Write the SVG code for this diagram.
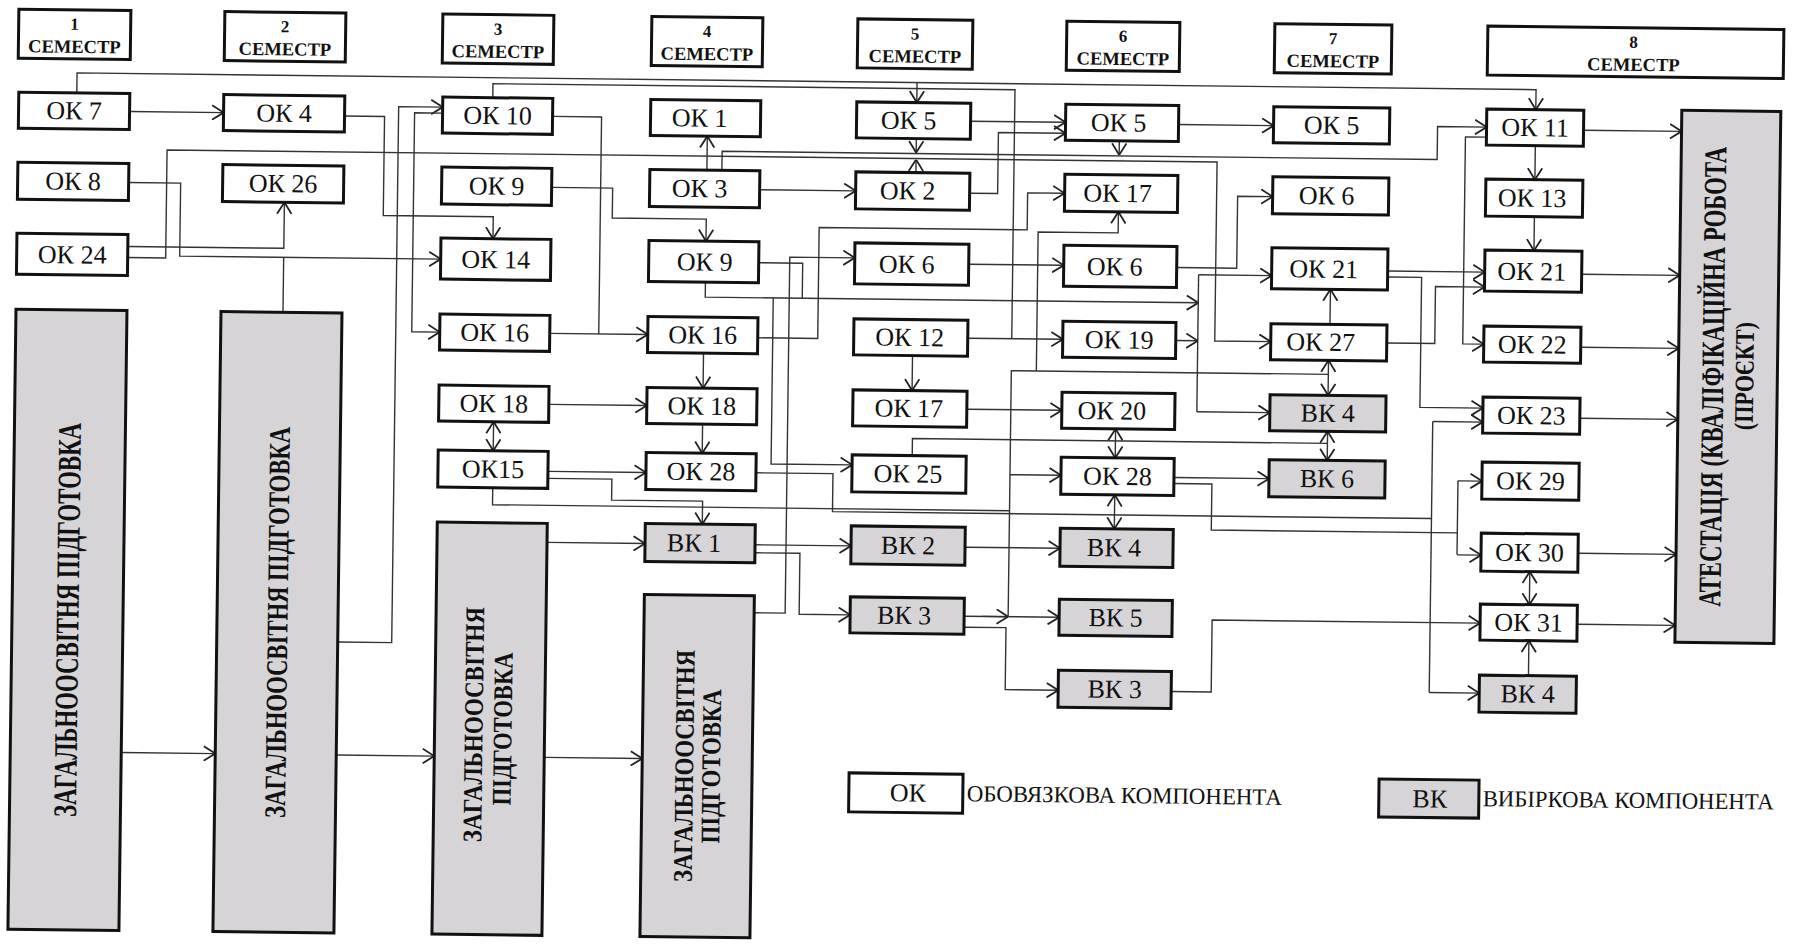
<svg xmlns="http://www.w3.org/2000/svg" width="1795" height="946" viewBox="0 0 1795 946">
<style>
.bx{fill:#fff;stroke:#111;stroke-width:3}
.gy{fill:#d7d4d8;stroke:#111;stroke-width:3}
.t{font-family:"Liberation Serif","Times New Roman",serif;font-size:26px;text-anchor:middle;fill:#111}
.hb{font-family:"Liberation Serif","Times New Roman",serif;font-weight:bold;text-anchor:middle;fill:#111}
.vt{font-family:"Liberation Serif","Times New Roman",serif;font-weight:bold;text-anchor:middle;fill:#111}
.lg{font-family:"Liberation Serif","Times New Roman",serif;font-size:23px;fill:#111}
#conn path{fill:none;stroke:#333;stroke-width:1.4}
.a{marker-end:url(#ar)}
.d{marker-start:url(#ar);marker-end:url(#ar)}
</style>
<defs>
<marker id="ar" viewBox="0 0 12 16" refX="12" refY="8" markerWidth="12" markerHeight="16" markerUnits="userSpaceOnUse" orient="auto-start-reverse">
<path d="M0.5,0.8 L12,8 L0.5,15.2" fill="none" stroke="#222" stroke-width="1.8"/>
</marker>
</defs>
<rect width="1795" height="946" fill="#fff"/>
<g transform="matrix(1 0.0115 -0.013 1 0 0)">
<g id="sem1"><rect class="bx" x="19" y="9" width="112" height="49"/><text class="hb" x="75" y="29" font-size="17">1</text><text class="hb" x="75" y="52" font-size="18.5">СЕМЕСТР</text></g>
<g id="sem2"><rect class="bx" x="225" y="9" width="121" height="49"/><text class="hb" x="285.5" y="29" font-size="17">2</text><text class="hb" x="285.5" y="52" font-size="18.5">СЕМЕСТР</text></g>
<g id="sem3"><rect class="bx" x="443" y="9" width="111" height="49"/><text class="hb" x="498.5" y="29" font-size="17">3</text><text class="hb" x="498.5" y="52" font-size="18.5">СЕМЕСТР</text></g>
<g id="sem4"><rect class="bx" x="652" y="9" width="111" height="49"/><text class="hb" x="707.5" y="29" font-size="17">4</text><text class="hb" x="707.5" y="52" font-size="18.5">СЕМЕСТР</text></g>
<g id="sem5"><rect class="bx" x="858" y="9" width="115" height="49"/><text class="hb" x="915.5" y="29" font-size="17">5</text><text class="hb" x="915.5" y="52" font-size="18.5">СЕМЕСТР</text></g>
<g id="sem6"><rect class="bx" x="1067" y="9" width="113" height="49"/><text class="hb" x="1123.5" y="29" font-size="17">6</text><text class="hb" x="1123.5" y="52" font-size="18.5">СЕМЕСТР</text></g>
<g id="sem7"><rect class="bx" x="1275" y="9" width="117" height="49"/><text class="hb" x="1333.5" y="29" font-size="17">7</text><text class="hb" x="1333.5" y="52" font-size="18.5">СЕМЕСТР</text></g>
<g id="sem8"><rect class="bx" x="1488" y="9" width="296" height="49"/><text class="hb" x="1634" y="29" font-size="17">8</text><text class="hb" x="1634" y="52" font-size="18.5">СЕМЕСТР</text></g>

<g id="conn">
<path class="a" d="M78,92 V72 H1537 V92"/>
<path class="a" d="M918,72 V92"/>
<path class="a" d="M131,110 H225"/>
<path class="a" d="M346,112 H386 V211 H496 V233"/>
<path class="a" d="M131,181 H183 V254 H444"/>
<path d="M287,309 V254"/>
<path class="a" d="M131,245 H287 V199"/>
<path class="a" d="M131,256 H169 V148 H1219 V327 H1275"/>
<path class="a" d="M709,162 V128"/>
<path class="a" d="M724,162 V143 H1439 V110 H1488"/>
<path class="a" d="M918,128 V142"/>
<path class="a" d="M918,162 V149"/>
<path class="a" d="M1121,128 V142"/>
<path class="a" d="M131,751 H225"/>
<path class="a" d="M346,751 H444"/>
<path class="a" d="M554,751 H652"/>
<path class="a" d="M346,638 H400 V102 H444"/>
<path class="a" d="M444,108 H416 V327 H444"/>
<path d="M554,110 H603 V327"/>
<path class="a" d="M554,327 H652"/>
<path class="a" d="M554,181 H615 V211 H709 V233"/>
<path class="a" d="M762,181 H858"/>
<path class="a" d="M709,274 V289 H1202"/>
<path class="a" d="M777,289 V455 H858"/>
<path d="M762,254 H806 V289"/>
<path class="a" d="M762,604 H793 V248 H858"/>
<path class="a" d="M762,329 H822 V218 H1030 V181 H1067"/>
<path class="a" d="M972,253 H1067"/>
<path class="a" d="M1180,254 H1240 V182 H1275"/>
<path d="M1202,261 V398"/>
<path class="a" d="M1202,261 H1275"/>
<path class="a" d="M1202,398 H1275"/>
<path class="a" d="M1180,327 H1202"/>
<path d="M494,92 V78 H1016 V327"/>
<path class="a" d="M972,327 H1067"/>
<path class="a" d="M917,345 V380"/>
<path class="a" d="M972,398 H1067"/>
<path class="d" d="M1121,416 V445"/>
<path class="d" d="M1121,482 V516"/>
<path class="a" d="M972,605 H1067"/>
<path class="a" d="M990,605 H1016"/>
<path d="M1016,605 V359 H1333"/>
<path class="a" d="M1016,463 H1067"/>
<path class="a" d="M1041,359 V220 H1121 V199"/>
<path class="a" d="M972,110 H1067"/>
<path class="a" d="M972,182 H1000 V121 H1067"/>
<path class="a" d="M1180,111 H1275"/>
<path class="a" d="M554,472 H618 V493 H709 V516"/>
<path class="a" d="M554,465 H652"/>
<path d="M499,482 V499 H1016"/>
<path d="M762,464 H839 V502 H1438"/>
<path d="M1438,405 V676"/>
<path class="a" d="M1438,405 H1488"/>
<path class="a" d="M1438,676 H1488"/>
<path class="a" d="M1180,464 H1275"/>
<path d="M1180,470 H1218 V516 H1464"/>
<path d="M1464,464 V538"/>
<path class="a" d="M1464,464 H1488"/>
<path class="a" d="M1464,538 H1488"/>
<path class="a" d="M1180,678 H1220 V606 H1488"/>
<path class="a" d="M972,616 H1014 V678 H1067"/>
<path class="a" d="M762,536 H858"/>
<path class="a" d="M762,544 H807 V605 H858"/>
<path class="a" d="M554,536 H652"/>
<path class="a" d="M972,536 H1067"/>
<path class="a" d="M1537,658 V623"/>
<path class="d" d="M1537,554 V587"/>
<path class="d" d="M1333,345 V380"/>
<path class="d" d="M1333,416 V445"/>
<path d="M918,445 V428 H1333"/>
<path class="a" d="M1334,309 V274"/>
<path class="a" d="M1391,255 H1488"/>
<path class="a" d="M1391,261 H1425 V391 H1488"/>
<path class="a" d="M1391,327 H1439 V270 H1488"/>
<path class="a" d="M1488,120 H1467 V327 H1488"/>
<path class="a" d="M1537,128 V162"/>
<path class="a" d="M1537,199 V233"/>
<path class="a" d="M1585,112 H1683"/>
<path class="a" d="M1585,256 H1683"/>
<path class="a" d="M1585,329 H1683"/>
<path class="a" d="M1585,400 H1683"/>
<path class="a" d="M1585,535 H1683"/>
<path class="a" d="M1585,606 H1683"/>
<path class="a" d="M554,398 H652"/>
<path class="d" d="M499,416 V445"/>
<path class="a" d="M708,345 V380"/>
<path class="a" d="M708,416 V445"/>
</g>

<g id="s1_ok7"><rect class="bx" x="20" y="92" width="111" height="36"/><text class="t" x="75.5" y="118.5">ОК 7</text></g>
<g id="s1_ok8"><rect class="bx" x="20" y="162" width="111" height="37"/><text class="t" x="75.5" y="189">ОК 8</text></g>
<g id="s1_ok24"><rect class="bx" x="20" y="233" width="111" height="41"/><text class="t" x="75.5" y="262.5">ОК 24</text></g>
<g id="s1_zag"><rect class="gy" x="20" y="309" width="111" height="620"/><text class="vt" font-size="33" textLength="394" lengthAdjust="spacingAndGlyphs" transform="translate(86.5,619) rotate(-90)">ЗАГАЛЬНООСВІТНЯ ПІДГОТОВКА</text></g>
<g id="s2_ok4"><rect class="bx" x="225" y="92" width="121" height="36"/><text class="t" x="285.5" y="118.5">ОК 4</text></g>
<g id="s2_ok26"><rect class="bx" x="225" y="162" width="121" height="37"/><text class="t" x="285.5" y="189">ОК 26</text></g>
<g id="s2_zag"><rect class="gy" x="225" y="309" width="121" height="620"/><text class="vt" font-size="30" textLength="391" lengthAdjust="spacingAndGlyphs" transform="translate(295.5,619) rotate(-90)">ЗАГАЛЬНООСВІТНЯ ПІДГОТОВКА</text></g>
<g id="s3_ok10"><rect class="bx" x="444" y="92" width="110" height="36"/><text class="t" x="499" y="118.5">ОК 10</text></g>
<g id="s3_ok9"><rect class="bx" x="444" y="162" width="110" height="37"/><text class="t" x="499" y="189">ОК 9</text></g>
<g id="s3_ok14"><rect class="bx" x="444" y="233" width="110" height="41"/><text class="t" x="499" y="262.5">ОК 14</text></g>
<g id="s3_ok16"><rect class="bx" x="444" y="309" width="110" height="36"/><text class="t" x="499" y="335.5">ОК 16</text></g>
<g id="s3_ok18"><rect class="bx" x="444" y="380" width="110" height="36"/><text class="t" x="499" y="406.5">ОК 18</text></g>
<g id="s3_ok15"><rect class="bx" x="444" y="445" width="110" height="37"/><text class="t" x="499" y="472">ОК15</text></g>
<g id="s3_zag"><rect class="gy" x="444" y="517" width="110" height="412"/><text class="vt" font-size="27" textLength="235" lengthAdjust="spacingAndGlyphs" transform="translate(492,719) rotate(-90)">ЗАГАЛЬНООСВІТНЯ</text><text class="vt" font-size="27" textLength="153" lengthAdjust="spacingAndGlyphs" transform="translate(521,723) rotate(-90)">ПІДГОТОВКА</text></g>
<g id="s4_ok1"><rect class="bx" x="652" y="92" width="110" height="36"/><text class="t" x="701" y="118.5">ОК 1</text></g>
<g id="s4_ok3"><rect class="bx" x="652" y="162" width="110" height="37"/><text class="t" x="702" y="189">ОК 3</text></g>
<g id="s4_ok9"><rect class="bx" x="652" y="233" width="110" height="41"/><text class="t" x="708" y="262.5">ОК 9</text></g>
<g id="s4_ok16"><rect class="bx" x="652" y="309" width="110" height="36"/><text class="t" x="707" y="335.5">ОК 16</text></g>
<g id="s4_ok18"><rect class="bx" x="652" y="380" width="110" height="36"/><text class="t" x="707" y="406.5">ОК 18</text></g>
<g id="s4_ok28"><rect class="bx" x="652" y="445" width="110" height="37"/><text class="t" x="707" y="472">ОК 28</text></g>
<g id="s4_vk1"><rect class="gy" x="652" y="516" width="110" height="38"/><text class="t" x="701" y="543.5">ВК 1</text></g>
<g id="s4_zag"><rect class="gy" x="652" y="587" width="110" height="342"/><text class="vt" font-size="27" textLength="232" lengthAdjust="spacingAndGlyphs" transform="translate(703,758) rotate(-90)">ЗАГАЛЬНООСВІТНЯ</text><text class="vt" font-size="27" textLength="154" lengthAdjust="spacingAndGlyphs" transform="translate(730,758) rotate(-90)">ПІДГОТОВКА</text></g>
<g id="s5_ok5"><rect class="bx" x="858" y="92" width="114" height="36"/><text class="t" x="910" y="118.5">ОК 5</text></g>
<g id="s5_ok2"><rect class="bx" x="858" y="162" width="114" height="37"/><text class="t" x="910" y="189">ОК 2</text></g>
<g id="s5_ok6"><rect class="bx" x="858" y="233" width="114" height="41"/><text class="t" x="910" y="262.5">ОК 6</text></g>
<g id="s5_ok12"><rect class="bx" x="858" y="309" width="114" height="36"/><text class="t" x="914" y="335.5">ОК 12</text></g>
<g id="s5_ok17"><rect class="bx" x="858" y="380" width="114" height="36"/><text class="t" x="914" y="406.5">ОК 17</text></g>
<g id="s5_ok25"><rect class="bx" x="858" y="445" width="114" height="37"/><text class="t" x="914" y="472">ОК 25</text></g>
<g id="s5_vk2"><rect class="gy" x="858" y="516" width="114" height="38"/><text class="t" x="915" y="543.5">ВК 2</text></g>
<g id="s5_vk3"><rect class="gy" x="858" y="587" width="114" height="36"/><text class="t" x="912" y="613.5">ВК 3</text></g>
<g id="s6_ok5"><rect class="bx" x="1067" y="92" width="113" height="36"/><text class="t" x="1120" y="118.5">ОК 5</text></g>
<g id="s6_ok17"><rect class="bx" x="1067" y="162" width="113" height="37"/><text class="t" x="1120" y="189">ОК 17</text></g>
<g id="s6_ok6"><rect class="bx" x="1067" y="233" width="113" height="41"/><text class="t" x="1118" y="262.5">ОК 6</text></g>
<g id="s6_ok19"><rect class="bx" x="1067" y="309" width="113" height="36"/><text class="t" x="1123.5" y="335.5">ОК 19</text></g>
<g id="s6_ok20"><rect class="bx" x="1067" y="380" width="113" height="36"/><text class="t" x="1117" y="406.5">ОК 20</text></g>
<g id="s6_ok28"><rect class="bx" x="1067" y="445" width="113" height="37"/><text class="t" x="1123.5" y="472">ОК 28</text></g>
<g id="s6_vk4"><rect class="gy" x="1067" y="516" width="113" height="38"/><text class="t" x="1121" y="543.5">ВК 4</text></g>
<g id="s6_vk5"><rect class="gy" x="1067" y="587" width="113" height="36"/><text class="t" x="1123.5" y="613.5">ВК 5</text></g>
<g id="s6_vk3"><rect class="gy" x="1067" y="658" width="113" height="37"/><text class="t" x="1123.5" y="685">ВК 3</text></g>
<g id="s7_ok5"><rect class="bx" x="1275" y="92" width="116" height="36"/><text class="t" x="1333" y="118.5">ОК 5</text></g>
<g id="s7_ok6"><rect class="bx" x="1275" y="162" width="116" height="37"/><text class="t" x="1329" y="189">ОК 6</text></g>
<g id="s7_ok21"><rect class="bx" x="1275" y="233" width="116" height="41"/><text class="t" x="1327" y="262.5">ОК 21</text></g>
<g id="s7_ok27"><rect class="bx" x="1275" y="309" width="116" height="36"/><text class="t" x="1325" y="335.5">ОК 27</text></g>
<g id="s7_vk4"><rect class="gy" x="1275" y="380" width="116" height="36"/><text class="t" x="1333" y="406.5">ВК 4</text></g>
<g id="s7_vk6"><rect class="gy" x="1275" y="445" width="116" height="37"/><text class="t" x="1333" y="472">ВК 6</text></g>
<g id="s8_ok11"><rect class="bx" x="1488" y="92" width="97" height="36"/><text class="t" x="1536.5" y="118.5">ОК 11</text></g>
<g id="s8_ok13"><rect class="bx" x="1488" y="162" width="97" height="37"/><text class="t" x="1534.5" y="189">ОК 13</text></g>
<g id="s8_ok21"><rect class="bx" x="1488" y="233" width="97" height="41"/><text class="t" x="1535" y="262.5">ОК 21</text></g>
<g id="s8_ok22"><rect class="bx" x="1488" y="309" width="97" height="36"/><text class="t" x="1536.5" y="335.5">ОК 22</text></g>
<g id="s8_ok23"><rect class="bx" x="1488" y="380" width="97" height="36"/><text class="t" x="1536.5" y="406.5">ОК 23</text></g>
<g id="s8_ok29"><rect class="bx" x="1488" y="445" width="97" height="37"/><text class="t" x="1536.5" y="472">ОК 29</text></g>
<g id="s8_ok30"><rect class="bx" x="1488" y="516" width="97" height="38"/><text class="t" x="1536.5" y="543.5">ОК 30</text></g>
<g id="s8_ok31"><rect class="bx" x="1488" y="587" width="97" height="36"/><text class="t" x="1536.5" y="613.5">ОК 31</text></g>
<g id="s8_vk4"><rect class="gy" x="1488" y="658" width="97" height="37"/><text class="t" x="1536.5" y="685">ВК 4</text></g>
<g id="attest"><rect class="gy" x="1683" y="91" width="99" height="532"/><text class="vt" font-size="32" textLength="460" lengthAdjust="spacingAndGlyphs" transform="translate(1728,357) rotate(-90)">АТЕСТАЦІЯ (КВАЛІФІКАЦІЙНА РОБОТА</text><text class="vt" font-size="27" textLength="108" lengthAdjust="spacingAndGlyphs" transform="translate(1758,356) rotate(-90)">(ПРОЄКТ)</text></g>
<g id="legend_ok"><rect class="bx" x="859" y="763" width="114" height="39"/><text class="t" x="918" y="791">ОК</text><text class="lg" x="977" y="790" textLength="315" lengthAdjust="spacingAndGlyphs">ОБОВЯЗКОВА КОМПОНЕНТА</text></g>
<g id="legend_vk"><rect class="gy" x="1389" y="763" width="100" height="38"/><text class="t" x="1440" y="791">ВК</text><text class="lg" x="1493" y="789" textLength="291" lengthAdjust="spacingAndGlyphs">ВИБІРКОВА КОМПОНЕНТА</text></g>
</g>
</svg>
